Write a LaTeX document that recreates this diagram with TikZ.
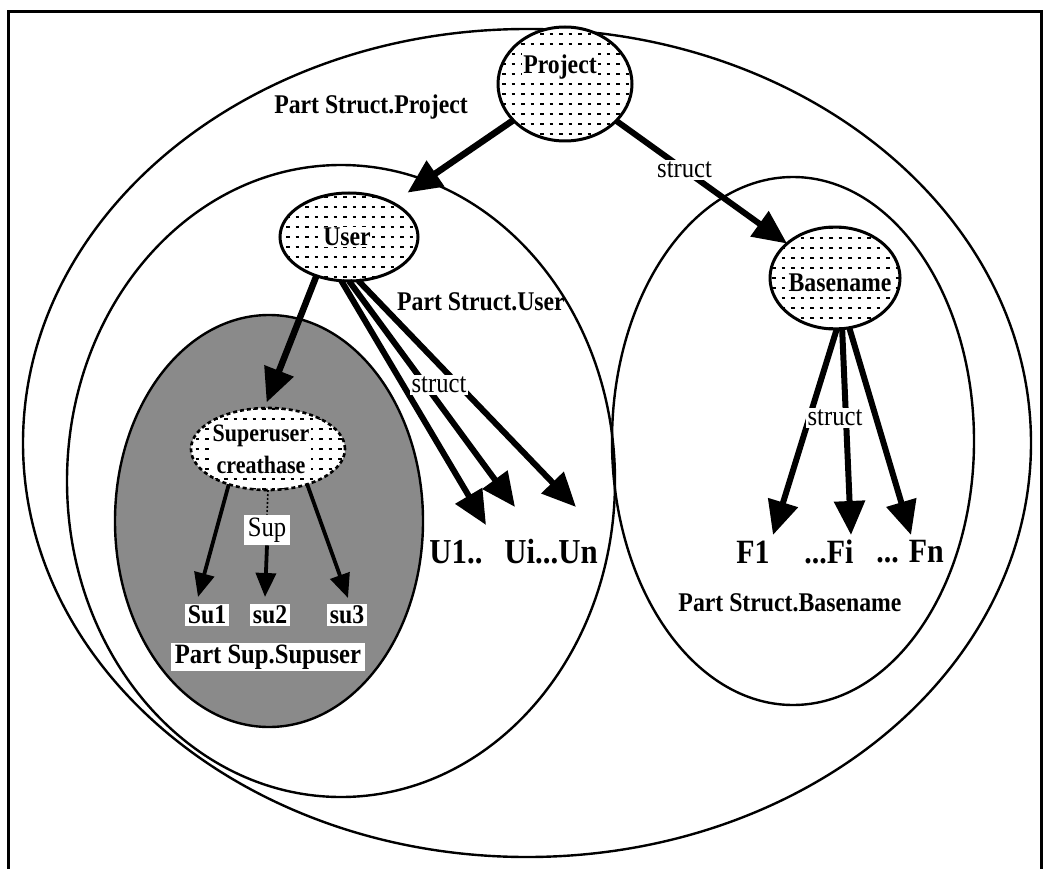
\documentclass[tikz,border=0pt]{standalone}
\usepackage{fontspec}
\setmainfont{Liberation Serif}[FakeStretch=0.88]
\usetikzlibrary{shapes.geometric,arrows.meta,calc}
\definecolor{halftone}{RGB}{138,138,138}

\begin{document}
\begin{tikzpicture}[x=1pt,y=-1pt,
  region/.style={draw, ellipse, line width=2.4pt, inner sep=0pt, outer sep=0pt},
  stipple/.style={path picture={
      \foreach \k in {-12,...,12}{
        \draw[line width=2.2pt, dash pattern=on 3.5pt off 6pt]
          ($(path picture bounding box.center)+(-120,\k*10)$) -- ++(240,0);}}},
  obj/.style={draw, ellipse, line width=3pt, fill=white, stipple, inner sep=0pt, outer sep=0pt},
  subobj/.style={draw, ellipse, line width=2.6pt, dash pattern=on 4pt off 3pt,
      fill=white, stipple, inner sep=0pt, outer sep=0pt},
  objtext/.style={fill=white, inner sep=1.5pt, font=\bfseries\fontsize{27}{30}\selectfont},
  bigbold/.style={inner sep=1pt, font=\bfseries\fontsize{27}{30}\selectfont},
  leafbold/.style={inner sep=1pt, font=\bfseries\fontsize{34}{38}\selectfont},
  lbl/.style={fill=white, inner sep=2pt, font=\fontsize{28}{30}\selectfont},
  boxlbl/.style={fill=white, inner xsep=3pt, inner ysep=2pt, font=\bfseries\fontsize{27}{30}\selectfont},
  arr/.style={line width=6.5pt, -{Triangle[length=34pt,width=30pt]}},
  sarr/.style={line width=3.8pt, -{Triangle[length=24pt,width=20pt]}}
]
\useasboundingbox (0,0) rectangle (1043,869);
\fill[white] (0,0) rectangle (1043,869);

% frame
\draw[line width=3pt] (8,869) -- (8,12) -- (1041.5,12) -- (1041.5,869);

% partition regions
\node[region, minimum width=1008pt, minimum height=828pt] (projpart) at (527,443) {};
\node[region, minimum width=548pt, minimum height=632pt] (userpart) at (341,481) {};
\node[region, fill=halftone, minimum width=308pt, minimum height=412pt] (suppart) at (269,521) {};
\node[region, minimum width=362pt, minimum height=528pt] (basepart) at (793,441) {};

% objects
\node[obj, minimum width=134pt, minimum height=114pt] (project) at (565,84) {};
\node[obj, minimum width=138pt, minimum height=88pt] (user) at (349,237) {};
\node[obj, minimum width=130pt, minimum height=102pt] (basename) at (835,278) {};
\node[subobj, minimum width=154pt, minimum height=82pt] (superuser) at (268,449) {};

\node[objtext] (projecttext) at (560,67) {Project};
\node[objtext] (usertext) at (347,237) {User};
\node[objtext] (basenametext) at (840,283) {Basename};
\node[objtext, align=center, font=\bfseries\fontsize{25}{32}\selectfont] (superusertext) at (261,449) {Superuser\\creathase};

% end points of the leaf arrows
\coordinate (u1tip) at (486,525);
\coordinate (uitip) at (515,507);
\coordinate (untip) at (576,507);
\coordinate (f1tip) at (773,535);
\coordinate (fitip) at (851,535);
\coordinate (fntip) at (911,535);
\coordinate (su1tip) at (198,597);
\coordinate (su2tip) at (265,597);
\coordinate (su3tip) at (348,598);

% arrows
\draw[arr] (project.-145) -- ([shift={(-4,17)}]userpart.77);
\draw[arr, line width=6pt] (project) -- (basename)
  node[lbl, pos=0.4] (structa) {struct};
\draw[arr, shorten >=6pt] (user.-130) -- (superuser.95);

\draw[arr, line width=6pt] (user.-100) -- (u1tip);
\draw[arr, line width=6pt] (user.-90) -- (uitip);
\draw[arr, line width=6pt] (user.-78) -- (untip);
\node[lbl] (structb) at (439,385) {struct};

\draw[arr, line width=6pt] (basename.-88) -- (f1tip);
\draw[arr, line width=6pt] (basename.-82) -- (fitip);
\draw[arr, line width=6pt] (basename.-74) -- (fntip);
\node[lbl] (structc) at (835,418) {struct};

\node[lbl, inner xsep=4pt, inner ysep=3pt] (sup) at (267,530) {Sup};
\draw[line width=1.6pt, dash pattern=on 2pt off 2pt] (superuser.-90) -- (sup.north);
\draw[sarr] (sup.south) -- (su2tip);
\draw[sarr] (superuser.-138) -- (su1tip);
\draw[sarr] (superuser.-42) -- (su3tip);

% leaf labels
\node[boxlbl] (su1) at (207,615) {Su1};
\node[boxlbl] (su2) at (270,615) {su2};
\node[boxlbl] (su3) at (347,615) {su3};
\node[boxlbl, inner xsep=4pt, font=\bfseries\fontsize{28}{30}\selectfont] (supuser) at (268,657) {Part Sup.Supuser};

\node[leafbold, font=\bfseries\fontsize{35}{38}\selectfont] (u1) at (456,552) {U1..};
\node[leafbold, font=\bfseries\fontsize{35}{38}\selectfont] (uiun) at (551,552) {Ui...Un};
\node[leafbold] (f1) at (753,552) {F1};
\node[leafbold] (fi) at (829,552) {...Fi};
\node[leafbold] (fn) at (910,552) {... Fn};

% region names
\node[bigbold] (projname) at (371,107) {Part Struct.Project};
\node[bigbold] (username) at (481,302) {Part Struct.User};
\node[bigbold] (basename2) at (790,603) {Part Struct.Basename};
\end{tikzpicture}
\end{document}
